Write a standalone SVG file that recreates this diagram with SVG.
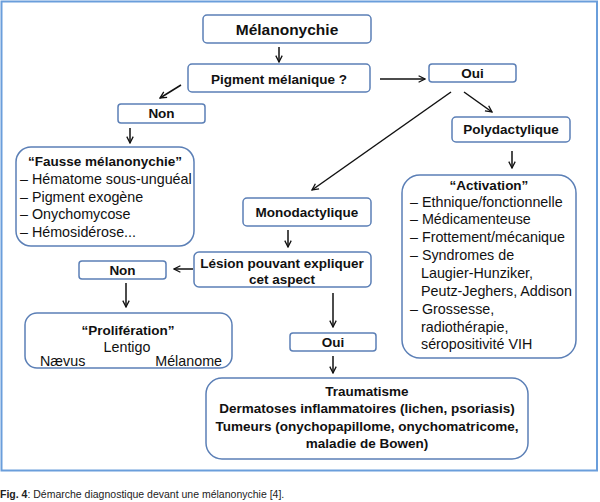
<svg xmlns="http://www.w3.org/2000/svg" width="600" height="502" viewBox="0 0 600 502">
<defs>
<marker id="ah" viewBox="0 0 10 10" refX="9" refY="5" markerWidth="8" markerHeight="8" markerUnits="userSpaceOnUse" orient="auto">
<path d="M1,1 L9,5 L1,9" fill="none" stroke="#111" stroke-width="1.6"/>
</marker>
</defs>
<style>
.box{fill:#fff;stroke:#5b7fb6;stroke-width:1.5}
.b{font-family:"Liberation Sans",Arial,sans-serif;font-weight:bold;font-size:13.5px;fill:#111}
.r{font-family:"Liberation Sans",Arial,sans-serif;font-size:14.3px;fill:#111}
.c{text-anchor:middle}
.con line{stroke:#111;stroke-width:1.5;marker-end:url(#ah)}
</style>
<rect x="0" y="0" width="600" height="502" fill="#fff"/>
<rect x="1.5" y="1.5" width="595.5" height="469" fill="none" stroke="#6a9edb" stroke-width="2"/>

<g id="melanonychie"><rect class="box" x="203" y="15" width="168" height="28" rx="4"/><text class="b c" x="287" y="34.5" style="font-size:15.5px">Mélanonychie</text></g>
<g id="pigment"><rect class="box" x="188" y="64" width="182" height="28" rx="4"/><text class="b c" x="279" y="83.5">Pigment mélanique ?</text></g>
<g id="oui1"><rect class="box" x="429" y="64" width="87" height="18" rx="3"/><text class="b c" x="472.5" y="77.5">Oui</text></g>
<g id="non1"><rect class="box" x="118" y="104" width="87" height="19" rx="3"/><text class="b c" x="161.5" y="118">Non</text></g>
<g id="fausse"><rect class="box" x="16" y="147" width="178" height="99" rx="15"/>
<text class="b c" x="105" y="166">“Fausse mélanonychie”</text>
<text class="r" x="20" y="184">– Hématome sous-unguéal</text>
<text class="r" x="20" y="202">– Pigment exogène</text>
<text class="r" x="20" y="219">– Onychomycose</text>
<text class="r" x="20" y="237">– Hémosidérose...</text></g>
<g id="polydactylique"><rect class="box" x="452" y="117" width="118" height="25" rx="4"/><text class="b c" x="511" y="134">Polydactylique</text></g>
<g id="activation"><rect class="box" x="402" y="175" width="174" height="183" rx="18"/>
<text class="b c" x="489" y="190">“Activation”</text>
<text class="r" x="410" y="207">– Ethnique/fonctionnelle</text>
<text class="r" x="410" y="224">– Médicamenteuse</text>
<text class="r" x="410" y="242">– Frottement/mécanique</text>
<text class="r" x="410" y="260">– Syndromes de</text>
<text class="r" x="421" y="278">Laugier-Hunziker,</text>
<text class="r" x="421" y="296">Peutz-Jeghers, Addison</text>
<text class="r" x="410" y="314">– Grossesse,</text>
<text class="r" x="421" y="332">radiothérapie,</text>
<text class="r" x="421" y="349">séropositivité VIH</text></g>
<g id="monodactylique"><rect class="box" x="243" y="198" width="128" height="28" rx="4"/><text class="b c" x="307" y="217">Monodactylique</text></g>
<g id="lesion"><rect class="box" x="194" y="252" width="177" height="35" rx="5"/>
<text class="b c" x="282" y="267.5">Lésion pouvant expliquer</text>
<text class="b c" x="282" y="283.5">cet aspect</text></g>
<g id="non2"><rect class="box" x="79" y="261" width="87" height="18" rx="3"/><text class="b c" x="122.5" y="274.5">Non</text></g>
<g id="proliferation"><rect class="box" x="25" y="313" width="207" height="55" rx="12"/>
<text class="b c" x="128" y="334.5">“Prolifération”</text>
<text class="r c" x="127" y="351.5">Lentigo</text>
<text class="r" x="40" y="365.5">Nævus</text>
<text class="r" x="222" y="365.5" text-anchor="end">Mélanome</text></g>
<g id="oui2"><rect class="box" x="290" y="333" width="86" height="18" rx="3"/><text class="b c" x="333" y="346.5">Oui</text></g>
<g id="causes"><rect class="box" x="206" y="378" width="322" height="81" rx="16"/>
<text class="b c" x="367" y="395.5">Traumatisme</text>
<text class="b c" x="367" y="412.5">Dermatoses inflammatoires (lichen, psoriasis)</text>
<text class="b c" x="367" y="430.5">Tumeurs (onychopapillome, onychomatricome,</text>
<text class="b c" x="367" y="447.5">maladie de Bowen)</text></g>

<g id="connectors" class="con">
<line x1="279" y1="47" x2="279" y2="62"/>
<line x1="380" y1="79" x2="425" y2="79"/>
<line x1="181" y1="85" x2="160" y2="98"/>
<line x1="130" y1="128" x2="130" y2="143"/>
<line x1="451" y1="92" x2="312" y2="190"/>
<line x1="464" y1="92" x2="492" y2="112"/>
<line x1="512" y1="151" x2="512" y2="168"/>
<line x1="288" y1="230" x2="288" y2="247"/>
<line x1="193" y1="269" x2="174" y2="269"/>
<line x1="126" y1="283" x2="126" y2="307"/>
<line x1="333" y1="293" x2="333" y2="327"/>
<line x1="333" y1="356" x2="333" y2="373"/>
</g>

<text x="0" y="498" font-family="Liberation Sans,Arial,sans-serif" font-size="10.5" fill="#222"><tspan font-weight="bold">Fig. 4</tspan>: Démarche diagnostique devant une mélanonychie [4].</text>
</svg>
